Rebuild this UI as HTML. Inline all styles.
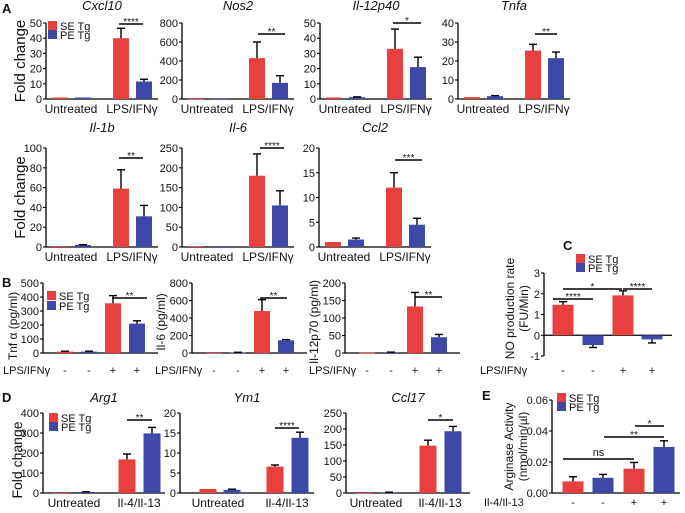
<!DOCTYPE html>
<html><head><meta charset="utf-8"><style>
html,body{margin:0;padding:0;background:#fff;}
svg{display:block;font-family:"Liberation Sans",Arial,sans-serif;}
</style></head><body>
<svg id="fig" width="685" height="513" viewBox="0 0 685 513" xmlns="http://www.w3.org/2000/svg"></svg>
<script>
// ---- data arrays (SE Tg / PE Tg, per condition) ----
const groupsA = ["Untreated", "LPS/IFNγ"];
const groupsD = ["Untreated", "Il-4/Il-13"];
const signsB = ["-", "-", "+", "+"];
const cxcl10SE = [1, 40], cxcl10PE = [1, 11.5], cxcl10SEerr = [0, 6.5], cxcl10PEerr = [0, 1.5];
const nos2SE = [1, 430], nos2PE = [1, 170], nos2SEerr = [0, 170], nos2PEerr = [0, 75];
const il12p40SE = [1, 33], il12p40PE = [1.2, 21], il12p40SEerr = [0, 13], il12p40PEerr = [0.2, 6.5];
const tnfaSE = [1, 25.5], tnfaPE = [1.5, 21.5], tnfaSEerr = [0, 3.3], tnfaPEerr = [0.3, 3.2];
const il1bSE = [1, 59], il1bPE = [2, 31], il1bSEerr = [0, 19], il1bPEerr = [0.3, 11];
const il6SE = [2, 180], il6PE = [2, 105], il6SEerr = [0, 55], il6PEerr = [0, 37];
const ccl2SE = [1, 12], ccl2PE = [1.5, 4.5], ccl2SEerr = [0, 3], ccl2PEerr = [0.3, 1.3];
const tnfProt = [10, 10, 355, 210], tnfProtErr = [3, 3, 55, 20];
const il6Prot = [1, 6, 480, 145], il6ProtErr = [0, 2, 130, 8];
const il12p70Prot = [1, 2, 133, 45], il12p70ProtErr = [0, 0.5, 40, 8];
const noRate = [1.47, -0.47, 1.92, -0.2], noRateErr = [0.15, 0.12, 0.22, 0.17];
const arg1SE = [0, 168], arg1PE = [5, 298], arg1SEerr = [0, 27], arg1PEerr = [1, 30];
const ym1SE = [1, 6.6], ym1PE = [0.8, 13.8], ym1SEerr = [0, 0.4], ym1PEerr = [0.15, 1.4];
const ccl17SE = [0, 148], ccl17PE = [2, 193], ccl17SEerr = [0, 17], ccl17PEerr = [0.5, 15];
const arginase = [0.0075, 0.0098, 0.0157, 0.0297], arginaseErr = [0.003, 0.0022, 0.004, 0.004];

const RED = "#e8403f", BLUE = "#3e48a7";
const svg = document.getElementById("fig");
const NS = "http://www.w3.org/2000/svg";
function el(tag, attrs, parent, txt) {
  const e = document.createElementNS(NS, tag);
  for (const k in attrs) e.setAttribute(k, attrs[k]);
  if (txt !== undefined) e.textContent = txt;
  (parent || svg).appendChild(e);
  return e;
}
function txt(x, y, s, size, anchor, extra, parent) {
  const a = Object.assign({x: x, y: y, "font-size": size, "text-anchor": anchor || "middle", fill: "#111"}, extra || {});
  return el("text", a, parent, s);
}
function rotLabel(x, y, s, size, parent) {
  return txt(x, y, s, size, "middle", {transform: "rotate(-90 " + x + " " + y + ")"}, parent);
}
function chart(o) {
  const g = el("g", {});
  
  
  const yS = v => o.y0 - (v - o.min) / (o.max - o.min) * (o.y0 - o.yTop);
  const xS = rel => o.ax + rel;
  const zero = yS(Math.max(0, o.min));
  el("line", {x1: o.ax, y1: o.yTop, x2: o.ax, y2: o.y0, stroke: "#000", "stroke-width": 1.3}, g);
  for (let v = o.min; v <= o.max + 1e-9; v += o.step) {
    const y = yS(v);
    el("line", {x1: o.ax - 3, y1: y, x2: o.ax, y2: y, stroke: "#000", "stroke-width": 1.1}, g);
    const lab = o.fmt ? o.fmt(v) : String(Math.round(v * 1000) / 1000);
    const t = txt(o.ax - 4, y + 4, lab, o.tickSize || 11, "end", {}, g);
    
    
  }
  el("line", {x1: o.ax, y1: zero, x2: o.ax + o.len, y2: zero, stroke: "#000", "stroke-width": 1.3}, g);
  o.vals.forEach((v, i) => {
    const cx = xS(o.centers[i]);
    const y = yS(v);
    const r = el("rect", {x: cx - o.bw / 2, y: Math.min(y, zero), width: o.bw, height: Math.max(Math.abs(zero - y), 0.8), fill: o.cols[i]}, g);
    
    
    const e = o.errs[i];
    if (e > 0) {
      const ye = v >= 0 ? yS(v + e) : yS(v - e);
      el("line", {x1: cx, y1: y, x2: cx, y2: ye, stroke: "#000", "stroke-width": 1.4}, g);
      el("line", {x1: cx - 4, y1: ye, x2: cx + 4, y2: ye, stroke: "#000", "stroke-width": 1.4}, g);
    }
  });
  if (o.title) {
    const t = txt(o.titleX, o.titleY, o.title, 13, "middle", {"font-style": "italic"}, g);
    
    
  }
  if (o.cats) {
    o.cats.forEach((c, i) => {
      const t = txt(xS(o.catX[i]), zero + 14, c, 12, "middle", {}, g);
      
      
    });
  }
  if (o.signs) {
    o.signs.forEach((s, i) => {
      const t = txt(xS(o.centers[i]), o.signY, s, 11, "middle", {}, g);
      
      
    });
    const t = txt(o.signLX, o.signY, o.signLabel, 11, "start", {}, g);
    
    
  }
  (o.sig || []).forEach(s => {
    el("line", {x1: s[0], y1: s[2], x2: s[1], y2: s[2], stroke: "#000", "stroke-width": 1.6}, g);
    const t = txt((s[0] + s[1]) / 2, s[2] - 2 + (s[3] === "ns" ? -1 : 3), s[3], s[3] === "ns" ? 11 : 10, "middle", {}, g);
    
    
  });
  if (o.ylab) {
    o.ylab.forEach(l => {
      const t = rotLabel(l[0], (o.yTop + o.y0) / 2 + (l[3] || 0), l[1], l[2], g);
      
      
    });
  }
  return g;
}
function legend(x, y1, y2, name) {
  const g = el("g", {});
  
  
  el("rect", {x: x, y: y1 - 5, width: 9, height: 9, fill: RED}, g);
  el("rect", {x: x, y: y2 - 5, width: 9, height: 9, fill: BLUE}, g);
  txt(x + 12, y1 + 4, "SE Tg", 11, "start", {}, g);
  txt(x + 12, y2 + 4, "PE Tg", 11, "start", {}, g);
}
function panelLetter(x, y, s) {
  const t = txt(x, y, s, 13, "start", {"font-weight": "bold"});
  
  
}
const pair = (a, b) => [a[0], b[0], a[1], b[1]];
const colsP = [RED, BLUE, RED, BLUE];
const cA = [14, 37, 75, 98];

// ---- Panel A ----
panelLetter(2, 13, "A");
const rowA1 = {yTop: 23, y0: 99, titleY: 10};
const rowA2 = {yTop: 148, y0: 247, titleY: 132};
function aChart(name, ax, row, max, step, title, se, pe, see, pee, sig, ylab) {
  chart(Object.assign({name: name, ax: ax, len: 112, min: 0, max: max, step: step, title: title, titleX: ax + 56,
    vals: pair(se, pe), errs: pair(see, pee), cols: colsP, centers: cA, bw: 16,
    cats: groupsA, catX: [25, 86], sig: sig, ylab: ylab}, row));
}
aChart("cxcl10-chart", 46, rowA1, 50, 10, "Cxcl10", cxcl10SE, cxcl10PE, cxcl10SEerr, cxcl10PEerr, [[119, 143, 24, "****"]], [[25, "Fold change", 15]]);
aChart("nos2-chart", 182, rowA1, 800, 200, "Nos2", nos2SE, nos2PE, nos2SEerr, nos2PEerr, [[258, 285, 34, "**"]]);
aChart("il12p40-chart", 320, rowA1, 50, 10, "Il-12p40", il12p40SE, il12p40PE, il12p40SEerr, il12p40PEerr, [[393, 421, 23, "*"]]);
aChart("tnfa-chart", 458, rowA1, 40, 10, "Tnfa", tnfaSE, tnfaPE, tnfaSEerr, tnfaPEerr, [[535, 557, 34, "**"]]);
aChart("il1b-chart", 46, rowA2, 100, 20, "Il-1b", il1bSE, il1bPE, il1bSEerr, il1bPEerr, [[119, 143, 158, "**"]], [[25, "Fold change", 15]]);
aChart("il6-chart", 182, rowA2, 250, 50, "Il-6", il6SE, il6PE, il6SEerr, il6PEerr, [[260, 284, 148, "****"]]);
aChart("ccl2-chart", 319, rowA2, 20, 5, "Ccl2", ccl2SE, ccl2PE, ccl2SEerr, ccl2PEerr, [[395, 422, 160, "***"]]);
legend(48, 26, 35, "legend-a");

// ---- Panel B ----
panelLetter(2, 287, "B");
const cB = [22, 46, 70, 94];
function bChart(name, ax, max, step, vals, errs, sig, ylab, lx) {
  chart({name: name, ax: ax, len: 115, yTop: 283, y0: 353, min: 0, max: max, step: step,
    vals: vals, errs: errs, cols: colsP, centers: cB, bw: 16, signs: signsB, signY: 374, signLX: lx, signLabel: "LPS/IFNγ",
    sig: sig, ylab: [[ylab[0], ylab[1], 12, ylab[2]]]});
}
bChart("tnf-protein-chart", 43, 500, 100, tnfProt, tnfProtErr, [[112, 147, 298, "**"]], [17, "Tnf α (pg/ml)", 8], 3);
bChart("il6-protein-chart", 192, 800, 200, il6Prot, il6ProtErr, [[260, 287, 298, "**"]], [165, "Il-6 (pg/ml)", 4], 155);
bChart("il12p70-protein-chart", 345, 200, 50, il12p70Prot, il12p70ProtErr, [[415, 442, 297, "**"]], [318, "Il-12p70 (pg/ml)", 4], 309);
legend(47, 296, 306, "legend-b");

// ---- Panel C ----
panelLetter(563, 250, "C");
chart({name: "no-production-chart", ax: 544, len: 128, yTop: 273, y0: 356, min: -1, max: 3, step: 1,
  vals: noRate, errs: noRateErr, cols: colsP, centers: [19, 49, 79, 108], bw: 21,
  signs: signsB, signY: 374, signLX: 480, signLabel: "LPS/IFNγ",
  sig: [[563, 622, 289, "*"], [623, 652, 289, "****"], [553, 593, 299, "****"]],
  ylab: [[514, "NO production rate", 12, -6], [528, "(FU/Min)", 12, -6]]});
legend(576, 259, 268, "legend-c");

// ---- Panel D ----
panelLetter(2, 402, "D");
const rowD = {yTop: 413, y0: 493, titleY: 402};
function dChart(name, ax, len, max, step, title, se, pe, see, pee, centers, catX, sig, ylab) {
  chart(Object.assign({name: name, ax: ax, len: len, min: 0, max: max, step: step, title: title, titleX: ax + len / 2,
    vals: pair(se, pe), errs: pair(see, pee), cols: colsP, centers: centers, bw: 17,
    cats: groupsD, catX: catX, sig: sig, ylab: ylab}, rowD));
}
dChart("arg1-chart", 43, 122, 400, 100, "Arg1", arg1SE, arg1PE, arg1SEerr, arg1PEerr, [18, 43, 84, 109], [31, 96], [[127, 152, 420, "**"]], [[22, "Fold change", 14, 7]]);
dChart("ym1-chart", 180, 134, 20, 5, "Ym1", ym1SE, ym1PE, ym1SEerr, ym1PEerr, [28, 52, 95, 120], [38, 107], [[275, 299, 428, "****"]]);
dChart("ccl17-chart", 346, 124, 250, 50, "Ccl17", ccl17SE, ccl17PE, ccl17SEerr, ccl17PEerr, [18, 43, 82, 107], [30, 94], [[428, 453, 420, "*"]]);
legend(49, 418, 427, "legend-d");

// ---- Panel E ----
panelLetter(482, 400, "E");
chart({name: "arginase-chart", ax: 552, len: 128, yTop: 400, y0: 493, min: 0, max: 0.06, step: 0.02,
  fmt: v => v.toFixed(2), tickSize: 11,
  vals: arginase, errs: arginaseErr, cols: colsP, centers: [21, 51, 82, 112], bw: 21,
  signs: signsB, signY: 506, signLX: 484, signLabel: "Il-4/Il-13",
  sig: [[563, 634, 459, "ns"], [604, 664, 437, "**"], [635, 664, 426, "*"]],
  ylab: [[513, "Arginase Activity", 12], [527, "(nmol/min/µl)", 12]]});
legend(557, 398, 407, "legend-e");
</script>
</body></html>
